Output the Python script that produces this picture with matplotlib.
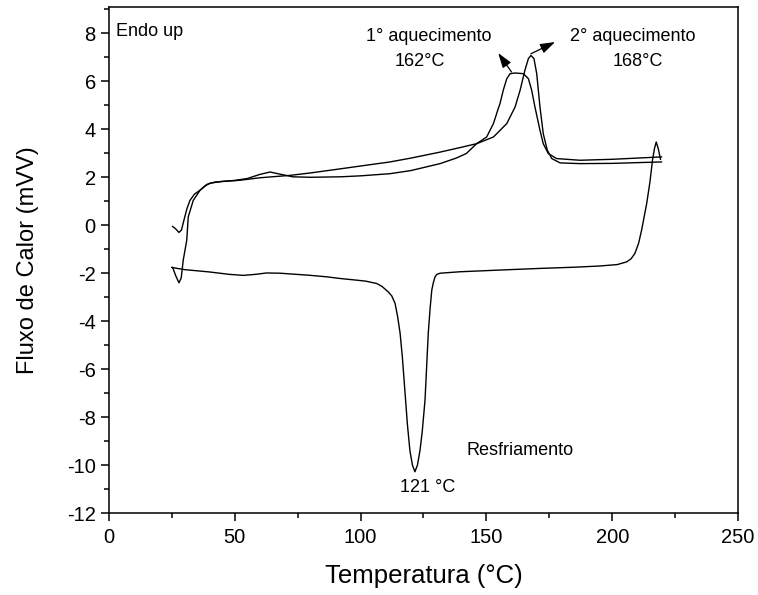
import matplotlib
matplotlib.use("Agg")
import matplotlib.pyplot as plt
from matplotlib.ticker import MultipleLocator

plt.rcParams["font.family"] = ["Liberation Sans", "DejaVu Sans"]
plt.rcParams["axes.unicode_minus"] = False

# 1st heating
temp_h1 = [25.3, 26.5, 27.8, 28.8, 30.0, 31.0, 32.2, 34.0, 36.2, 38.0, 40.0, 45.0,
           50.0, 55.0, 60.0, 64.0, 68.0, 73.0, 80.0, 92.0, 100.0, 111.7, 120.0,
           131.6, 138.0, 142.0, 146.1, 150.1, 152.8, 154.7, 155.4, 156.7, 158.1,
           159.4, 161.4, 164.7, 166.7, 168.0, 169.3, 171.3, 172.6, 174.6, 177.9,
           187.2, 200.0, 219.6]
flux_h1 = [-0.05, -0.15, -0.3, -0.2, 0.3, 0.7, 1.04, 1.3, 1.46, 1.62, 1.75, 1.83,
           1.87, 1.95, 2.12, 2.22, 2.13, 2.02, 2.0, 2.02, 2.06, 2.15, 2.28,
           2.57, 2.8, 2.99, 3.4, 3.68, 4.24, 4.86, 5.07, 5.63, 6.11,
           6.32, 6.35, 6.32, 6.11, 5.63, 4.93, 3.96, 3.4, 2.99, 2.78,
           2.71, 2.75, 2.85]

# 2nd heating
temp_h2 = [25.3, 26.5, 27.8, 28.7, 29.5, 30.2, 30.9, 31.5, 33.5, 36.2, 38.8, 42.0,
           52.0, 60.0, 72.0, 80.0, 91.8, 100.0, 111.7, 120.0, 131.6, 140.0, 146.1,
           152.8, 158.1, 161.4, 163.4, 165.3, 166.7, 167.7, 168.9, 170.0, 171.3,
           172.6, 174.2, 176.0, 179.3, 187.2, 200.0, 219.6]
flux_h2 = [-1.76, -2.1, -2.4, -2.2, -1.46, -1.04, -0.63, 0.35, 1.04, 1.46, 1.7, 1.8,
           1.875, 1.98, 2.08, 2.18, 2.35, 2.47, 2.64, 2.8, 3.05, 3.25, 3.4,
           3.68, 4.24, 4.93, 5.63, 6.46, 6.95, 7.08, 6.95, 6.32, 4.93,
           3.82, 3.13, 2.78, 2.6, 2.57, 2.58, 2.64]

# cooling
temp_c = [219.2, 218.3, 217.5, 216.8, 216.0, 215.0, 213.7, 211.7, 210.5, 209.0,
          207.5, 205.7, 202.0, 195.0, 185.0, 171.3, 155.0, 139.5, 131.6, 130.3,
          129.6, 128.9, 128.3, 127.6, 126.9, 125.6, 124.5, 123.6, 122.6, 121.6,
          120.6, 119.6, 118.6, 117.6, 116.6, 115.7, 114.7, 113.7, 112.4, 111.0,
          108.5, 106.4, 102.0, 98.4, 91.8, 86.5, 79.0, 73.3, 68.0, 62.7, 58.0,
          53.4, 48.0, 40.1, 30.0, 24.9]
flux_c = [2.75, 3.2, 3.47, 3.2, 2.7, 1.8, 0.9, -0.2, -0.75, -1.18,
          -1.4, -1.53, -1.64, -1.7, -1.75, -1.8, -1.87, -1.94, -2.0, -2.05,
          -2.15, -2.4, -2.7, -3.5, -4.5, -7.3, -8.6, -9.4, -10.0, -10.28,
          -10.0, -9.4, -8.3, -6.9, -5.5, -4.5, -3.8, -3.26, -2.95, -2.78,
          -2.55, -2.43, -2.33, -2.29, -2.22, -2.15, -2.08, -2.04, -2.0, -1.99, -2.05,
          -2.09, -2.05, -1.95, -1.85, -1.76]

fig = plt.figure(figsize=(7.58, 5.95), dpi=100)
ax = fig.add_axes([0.1438, 0.1378, 0.8298, 0.8504])

for t, f in [(temp_h1, flux_h1), (temp_h2, flux_h2), (temp_c, flux_c)]:
    ax.plot(t, f, color="black", lw=1.0)

ax.set_xlim(0, 250)
ax.set_ylim(-12, 9.1)
ax.xaxis.set_major_locator(MultipleLocator(50))
ax.xaxis.set_minor_locator(MultipleLocator(25))
ax.yaxis.set_major_locator(MultipleLocator(2))
ax.yaxis.set_minor_locator(MultipleLocator(1))
ax.tick_params(which="both", direction="out", width=1.1, labelsize=14.5)
ax.tick_params(which="major", length=6)
ax.tick_params(which="minor", length=3.5)
ax.tick_params(axis="x", pad=5)
for sp in ax.spines.values():
    sp.set_linewidth(1.1)

ax.set_xlabel("Temperatura (°C)", fontsize=18.5, labelpad=12)
ax.set_ylabel("Fluxo de Calor (mVV)", fontsize=17, labelpad=20)

ax.text(2.8, 8.1, "Endo up", fontsize=13, va="center", ha="left")
ax.text(127.2, 7.85, "1° aquecimento", fontsize=13, ha="center", va="center")
ax.text(123.6, 6.81, "162°C", fontsize=13, ha="center", va="center")
ax.text(208.3, 7.85, "2° aquecimento", fontsize=13, ha="center", va="center")
ax.text(210.3, 6.81, "168°C", fontsize=13, ha="center", va="center")
ax.text(163.2, -9.375, "Resfriamento", fontsize=13, ha="center", va="center")
ax.text(126.6, -10.94, "121 °C", fontsize=13, ha="center", va="center")

arrow = dict(arrowstyle="-|>,head_length=0.9,head_width=0.3", color="black",
             lw=0.9, mutation_scale=10, shrinkA=0, shrinkB=0)
ax.annotate("", xy=(154.7, 7.18), xytext=(160.0, 6.39), arrowprops=arrow)
ax.annotate("", xy=(177.3, 7.64), xytext=(167.7, 7.15), arrowprops=arrow)

fig.savefig("out.png", dpi=100)
